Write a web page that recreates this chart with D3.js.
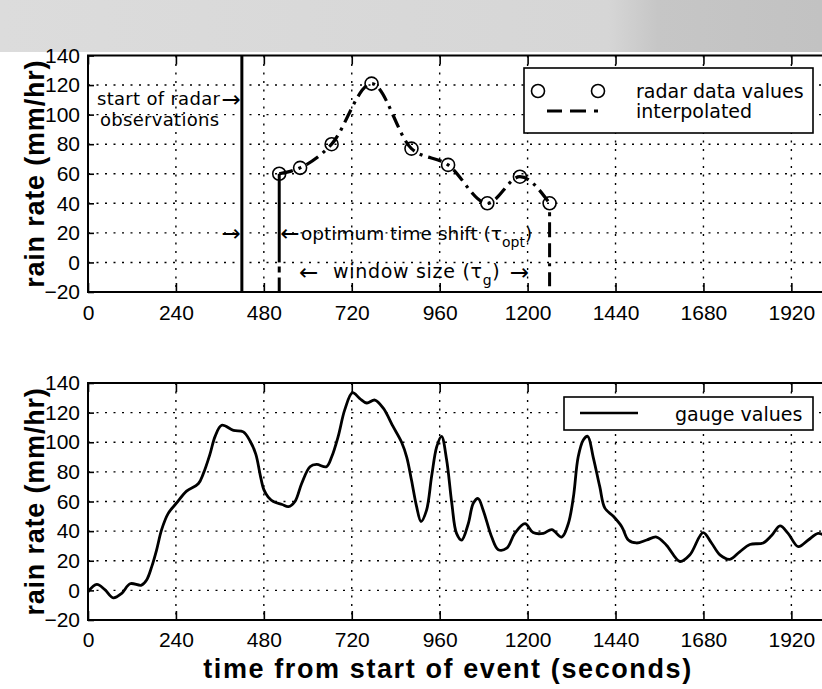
<!DOCTYPE html>
<html>
<head>
<meta charset="utf-8">
<script src="https://cdn.jsdelivr.net/npm/d3@7"></script>
<style>
  html, body { margin: 0; padding: 0; background: #fff; }
  svg { display: block; }
  text { font-family: "Liberation Sans", Arial, Helvetica, sans-serif; fill: #000; }
  .note { font-family: "DejaVu Sans", sans-serif; font-size: 19px; }
  .arrow { font-family: "DejaVu Sans", sans-serif; font-size: 23px; }
</style>
</head>
<body>
<svg id="chart" width="822" height="689"></svg>
<script>
// ---- data ----
const xTicks = [0, 240, 480, 720, 960, 1200, 1440, 1680, 1920];
const yTicks = [-20, 0, 20, 40, 60, 80, 100, 120, 140];

// radar samples (seconds, mm/hr)
const radarTime = [522, 579, 665, 774, 883, 983, 1090, 1179, 1260];
const radarRate = [60, 64, 80, 121, 77, 66, 40, 58, 40];

// annotation times (seconds)
const radarStartTime = 420;
const windowStartTime = 522;
const windowEndTime = 1260;

// rain gauge record (seconds, mm/hr)
const gaugeTime = [0, 24, 46, 69, 92, 115, 146, 160, 174, 187, 201, 219, 242, 269, 301, 315, 333, 347, 365,
  397, 424, 442, 458, 470, 480, 492, 506, 530, 547, 565, 583, 606, 624, 651, 665, 683, 701, 722, 742, 761,
  783, 806, 833, 856, 870, 883, 897, 909, 924, 938, 952, 965, 979, 993, 1006, 1020, 1038, 1052, 1065,
  1079, 1102, 1120, 1143, 1165, 1193, 1215, 1243, 1266, 1293, 1311, 1325, 1338, 1352, 1364, 1379, 1397,
  1411, 1434, 1457, 1475, 1497, 1525, 1552, 1579, 1616, 1643, 1679, 1702, 1725, 1752, 1779, 1807, 1843,
  1866, 1889, 1911, 1939, 1966, 1993, 2010];
const gaugeRate = [-1, 4, 0.5, -5, -2, 4.5, 3.5, 7, 16, 27, 41, 52, 59, 67, 72, 79, 92, 104, 111.5,
  108, 107, 101, 92, 78, 68, 63, 60, 58, 56.5, 60, 72, 83.5, 85, 83.5, 90, 104, 122, 133.5, 129.5, 126.5,
  128.5, 123, 110.5, 100, 90, 74.5, 56.5, 46.5, 54, 77, 97, 104, 88, 59, 38.5, 34, 45, 59, 62,
  54, 36, 27.5, 28.5, 38.5, 45, 39, 38.5, 41, 36, 45, 63, 90, 101.5, 104, 90, 70,
  55.5, 50, 43, 34, 32, 34, 36, 30.5, 19.5, 24, 39, 32, 24, 21, 26, 31, 32,
  37, 43.5, 38.5, 29.5, 34, 38.5, 37];

const radar = radarTime.map((t, i) => ({ t, v: radarRate[i] }));
const gauge = gaugeTime.map((t, i) => ({ t, v: gaugeRate[i] }));

// ---- layout ----
const svg = d3.select("#chart");
const left = 88, right = 828;
const x = d3.scaleLinear().domain([0, 2020]).range([left, right]);
const yTop = d3.scaleLinear().domain([-20, 140]).range([292, 55.5]);
const yBot = d3.scaleLinear().domain([-20, 140]).range([620, 383]);

const dashDot = "14,6,3,6";

// grey band along the top edge of the sheet
const defs = svg.append("defs");
const grad = defs.append("linearGradient").attr("id", "band");
grad.append("stop").attr("offset", "0").attr("stop-color", "#dcdcdc");
grad.append("stop").attr("offset", "0.74").attr("stop-color", "#d6d6d6");
grad.append("stop").attr("offset", "0.8").attr("stop-color", "#c6c6c6");
grad.append("stop").attr("offset", "1").attr("stop-color", "#c2c2c2");
svg.append("rect").attr("x", 0).attr("y", 0).attr("width", 822).attr("height", 52)
  .attr("fill", "url(#band)");

function panel(y, labelBase) {
  const g = svg.append("g");
  const [yb, yt] = y.range();
  // dotted grid
  g.selectAll("line.gx").data(xTicks.filter(d => d > 0)).join("line")
    .attr("x1", d => x(d)).attr("x2", d => x(d)).attr("y1", yt).attr("y2", yb)
    .attr("stroke", "#000").attr("stroke-width", 1.4).attr("stroke-dasharray", "2,6.5");
  g.selectAll("line.gy").data(yTicks.filter(d => d > -20 && d < 140)).join("line")
    .attr("x1", left).attr("x2", right).attr("y1", d => y(d)).attr("y2", d => y(d))
    .attr("stroke", "#000").attr("stroke-width", 1.4).attr("stroke-dasharray", "2,6.5");

  // axes
  const ax = g.append("g").attr("transform", `translate(0,${yb})`)
    .call(d3.axisBottom(x).tickValues(xTicks).tickSize(-9).tickPadding(labelBase).tickFormat(d3.format("d")));
  const at = g.append("g").attr("transform", `translate(0,${yt})`)
    .call(d3.axisTop(x).tickValues(xTicks).tickSize(-9).tickFormat(""));
  const al = g.append("g").attr("transform", `translate(${left},0)`)
    .call(d3.axisLeft(y).tickValues(yTicks).tickSize(-6).tickPadding(8));
  [ax, at, al].forEach(a => {
    a.select(".domain").remove();
    a.selectAll(".tick line").attr("stroke", "#000").attr("stroke-width", 1.6);
    a.selectAll(".tick text").style("font-size", "21px").style("font-family", '"Liberation Sans", Arial, sans-serif').attr("fill", "#000");
  });
  // frame
  g.append("path")
    .attr("d", `M${right},${yt}H${left}V${yb}H${right}`)
    .attr("fill", "none").attr("stroke", "#000").attr("stroke-width", 2);

  // y label
  g.append("text")
    .attr("transform", `translate(44,${(yt + yb) / 2}) rotate(-90)`)
    .attr("text-anchor", "middle")
    .style("font-size", "27px").style("font-weight", "bold").style("letter-spacing", "0.8px")
    .text("rain rate (mm/hr)");
  return g;
}

// ---- top panel: radar ----
const gt = panel(yTop, 13);

gt.append("line")
  .attr("x1", x(radarStartTime)).attr("x2", x(radarStartTime))
  .attr("y1", yTop(140)).attr("y2", yTop(-20))
  .attr("stroke", "#000").attr("stroke-width", 3);

gt.append("line")
  .attr("x1", x(windowStartTime)).attr("x2", x(windowStartTime))
  .attr("y1", yTop(radarRate[0])).attr("y2", yTop(0))
  .attr("stroke", "#000").attr("stroke-width", 3);
gt.append("line")
  .attr("x1", x(windowStartTime)).attr("x2", x(windowStartTime))
  .attr("y1", yTop(0)).attr("y2", yTop(-20))
  .attr("stroke", "#000").attr("stroke-width", 3).attr("stroke-dasharray", "0,4,6,5,14,6");
gt.append("line")
  .attr("x1", x(windowEndTime)).attr("x2", x(windowEndTime))
  .attr("y1", yTop(radarRate[radarRate.length - 1])).attr("y2", yTop(-20))
  .attr("stroke", "#000").attr("stroke-width", 3).attr("stroke-dasharray", "0,9,4,6,15,6,14,6,3,6,14,6");

const interp = d3.line().x(d => x(d.t)).y(d => yTop(d.v)).curve(d3.curveMonotoneX);
gt.append("path").datum(radar).attr("d", interp)
  .attr("fill", "none").attr("stroke", "#000").attr("stroke-width", 3.2)
  .attr("stroke-dasharray", dashDot);

gt.selectAll("circle.r").data(radar).join("circle")
  .attr("cx", d => x(d.t)).attr("cy", d => yTop(d.v)).attr("r", 6.5)
  .attr("fill", "none").attr("stroke", "#000").attr("stroke-width", 1.6);

// annotations
const ann = gt.append("g");
ann.append("text").attr("class", "note").attr("x", 97).attr("y", 105)
  .style("font-size", "18px").style("letter-spacing", "0.3px").text("start of radar");
ann.append("text").attr("class", "arrow").attr("x", x(radarStartTime) - 1).attr("y", 107)
  .attr("text-anchor", "end").text("\u2192");
ann.append("text").attr("class", "note").attr("x", 100).attr("y", 126)
  .style("font-size", "18px").style("letter-spacing", "0.3px").text("observations");

ann.append("text").attr("class", "arrow").attr("x", x(radarStartTime) - 1).attr("y", 241)
  .attr("text-anchor", "end").text("\u2192");
ann.append("text").attr("class", "arrow").attr("x", x(windowStartTime) + 1).attr("y", 241).text("\u2190");
const t1 = ann.append("text").attr("class", "note").attr("x", 301).attr("y", 240)
  .style("font-size", "18.5px");
t1.append("tspan").text("optimum time shift (\u03c4");
t1.append("tspan").attr("dy", 7).style("font-size", "14px").text("opt");
t1.append("tspan").attr("dy", -7).text(")");

ann.append("text").attr("class", "arrow").attr("x", 299).attr("y", 280).text("\u2190");
const t2 = ann.append("text").attr("class", "note").attr("x", 333).attr("y", 278)
  .style("letter-spacing", "0.7px");
t2.append("tspan").text("window size (\u03c4");
t2.append("tspan").attr("dy", 7).style("font-size", "14px").text("g");
t2.append("tspan").attr("dy", -7).text(")");
ann.append("text").attr("class", "arrow").attr("x", 529).attr("y", 280)
  .attr("text-anchor", "end").text("\u2192");

// legend
const lg = gt.append("g");
lg.append("rect").attr("x", 524).attr("y", 68).attr("width", 289).attr("height", 65)
  .attr("fill", "#fff").attr("stroke", "#000").attr("stroke-width", 1.6);
lg.selectAll("circle").data([538, 598]).join("circle")
  .attr("cx", d => d).attr("cy", 91).attr("r", 6.5)
  .attr("fill", "none").attr("stroke", "#000").attr("stroke-width", 1.6);
lg.append("line").attr("x1", 547).attr("x2", 600).attr("y1", 111).attr("y2", 111)
  .attr("stroke", "#000").attr("stroke-width", 3.2).attr("stroke-dasharray", "15,8,16,8,4,8");
lg.append("text").attr("class", "note").attr("x", 636).attr("y", 98).text("radar data values");
lg.append("text").attr("class", "note").attr("x", 636).attr("y", 118).text("interpolated");

// ---- bottom panel: gauge ----
const gb = panel(yBot, 12);
const gl = d3.line().x(d => x(d.t)).y(d => yBot(d.v)).curve(d3.curveCatmullRom.alpha(0.5));
gb.append("path").datum(gauge).attr("d", gl)
  .attr("fill", "none").attr("stroke", "#000").attr("stroke-width", 2.8)
  .attr("stroke-linejoin", "round");

const lb = gb.append("g");
lb.append("rect").attr("x", 564).attr("y", 397).attr("width", 249).attr("height", 33)
  .attr("fill", "#fff").attr("stroke", "#000").attr("stroke-width", 1.6);
lb.append("line").attr("x1", 580).attr("x2", 638).attr("y1", 413).attr("y2", 413)
  .attr("stroke", "#000").attr("stroke-width", 2.6);
lb.append("text").attr("class", "note").attr("x", 675).attr("y", 421).text("gauge values");

// x label
svg.append("text").attr("x", 448).attr("y", 678).attr("text-anchor", "middle")
  .style("font-size", "27px").style("font-weight", "bold").style("letter-spacing", "1.6px")
  .text("time from start of event (seconds)");
</script>
</body>
</html>
